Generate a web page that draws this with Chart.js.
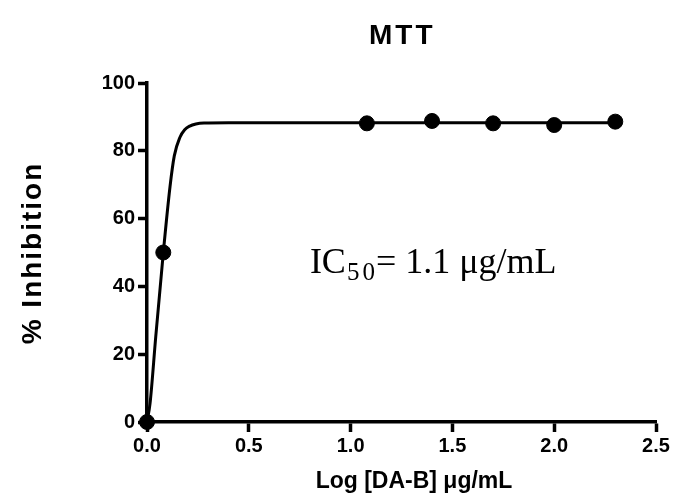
<!DOCTYPE html>
<html>
<head>
<meta charset="utf-8">
<script src="https://cdn.jsdelivr.net/npm/chart.js@4"></script>
<style>
html, body { margin: 0; padding: 0; background: #fff; }
</style>
</head>
<body>
<canvas id="myChart" width="674" height="504"></canvas>
<script>
// measured points
const doseLog = [0, 0.08, 1.08, 1.4, 1.7, 2.0, 2.3];
const inhibition = [0, 50, 88.1, 88.8, 88.1, 87.6, 88.6];

// fitted curve
const fitLog = [0, 0.015, 0.043, 0.08, 0.113, 0.134, 0.162, 0.185, 0.21, 0.24, 0.28, 0.4, 0.8, 1.5, 2.3];
const fitInhibition = [0, 5.5, 25.2, 49.9, 69.4, 78.5, 84.0, 86.2, 87.3, 87.9, 88.2, 88.3, 88.3, 88.3, 88.3];

const xTickLabels = ['0.0', '0.5', '1.0', '1.5', '2.0', '2.5'];
const yTickLabels = ['0', '20', '40', '60', '80', '100'];

const titleText = 'MTT';
const xTitle = 'Log [DA-B] \u03bcg/mL';
const yTitle = '% Inhibition';
const icLabel = ['IC', '50', '= 1.1 \u03bcg/mL'];
const icPos = [0.8, 44];

const sans = '"Liberation Sans", Arial, sans-serif';
const serif = '"Liberation Serif", "Times New Roman", serif';

const textPlugin = {
    id: 'textPlugin',
    afterDraw(chart) {
        const ctx = chart.ctx;
        ctx.save();
        ctx.fillStyle = '#000';
        ctx.textBaseline = 'alphabetic';
        ctx.textAlign = 'left';

        // title
        ctx.font = 'bold 28px ' + sans;
        ctx.letterSpacing = '3px';
        ctx.fillText(titleText, 369, 44);

        // y axis title
        ctx.font = 'bold 28px ' + sans;
        ctx.letterSpacing = '2px';
        let w = ctx.measureText(yTitle).width - 2;
        ctx.save();
        ctx.translate(41, 254);
        ctx.rotate(-Math.PI / 2);
        ctx.fillText(yTitle, -w / 2, 0);
        ctx.restore();

        // x axis title
        ctx.font = 'bold 23px ' + sans;
        ctx.letterSpacing = '0px';
        w = ctx.measureText(xTitle).width;
        ctx.fillText(xTitle, 414 - w / 2, 488);

        // IC50 note
        let x = chart.scales.x.getPixelForValue(icPos[0]);
        const y = chart.scales.y.getPixelForValue(icPos[1]);
        ctx.font = '36px ' + serif;
        ctx.fillText(icLabel[0], x, y);
        x += ctx.measureText(icLabel[0]).width + 1;
        ctx.font = '25px ' + serif;
        ctx.letterSpacing = '3px';
        ctx.fillText(icLabel[1], x, y + 7);
        x += ctx.measureText(icLabel[1]).width - 2;
        ctx.letterSpacing = '0px';
        ctx.font = '36px ' + serif;
        ctx.fillText(icLabel[2], x, y);
        ctx.restore();
    },
};

const ctx = document.getElementById('myChart');

new Chart(ctx, {
    type: 'scatter',
    data: {
        datasets: [
            {
                label: 'points',
                data: doseLog.map((v, i) => ({ x: v, y: inhibition[i] })),
                backgroundColor: '#000',
                borderColor: '#000',
                pointRadius: 7.5,
                pointHoverRadius: 7.5,
                clip: false,
                order: 0,
            },
            {
                label: 'fit',
                data: fitLog.map((v, i) => ({ x: v, y: fitInhibition[i] })),
                showLine: true,
                borderColor: '#000',
                borderWidth: 3,
                pointRadius: 0,
                cubicInterpolationMode: 'monotone',
                clip: false,
                order: 1,
            },
        ],
    },
    options: {
        responsive: false,
        animation: false,
        events: [],
        layout: { padding: { top: 83, right: 18, left: 10, bottom: 0 } },
        plugins: {
            legend: { display: false },
            tooltip: { enabled: false },
        },
        scales: {
            x: {
                type: 'linear',
                min: 0,
                max: 2.5,
                afterFit: (s) => { s.height = 82; },
                afterBuildTicks: (s) => {
                    s.ticks = xTickLabels.map((t) => ({ value: parseFloat(t) }));
                },
                ticks: {
                    callback: (v, i) => xTickLabels[i],
                    color: '#000',
                    font: { family: sans, size: 20, weight: 'bold' },
                    padding: 2,
                    maxRotation: 0,
                },
                grid: { drawOnChartArea: false, tickLength: 10, tickWidth: 3.5, tickColor: '#000' },
                border: { color: '#000', width: 3.5 },
            },
            y: {
                type: 'linear',
                min: 0,
                max: 100,
                afterFit: (s) => { s.width = 137; },
                afterBuildTicks: (s) => {
                    s.ticks = yTickLabels.map((t) => ({ value: parseFloat(t) }));
                },
                ticks: {
                    callback: (v, i) => yTickLabels[i],
                    color: '#000',
                    font: { family: sans, size: 20, weight: 'bold' },
                    padding: 3,
                },
                grid: { drawOnChartArea: false, tickLength: 9, tickWidth: 3.5, tickColor: '#000' },
                border: { color: '#000', width: 3.5 },
            },
        },
    },
    plugins: [textPlugin],
});
</script>
</body>
</html>
